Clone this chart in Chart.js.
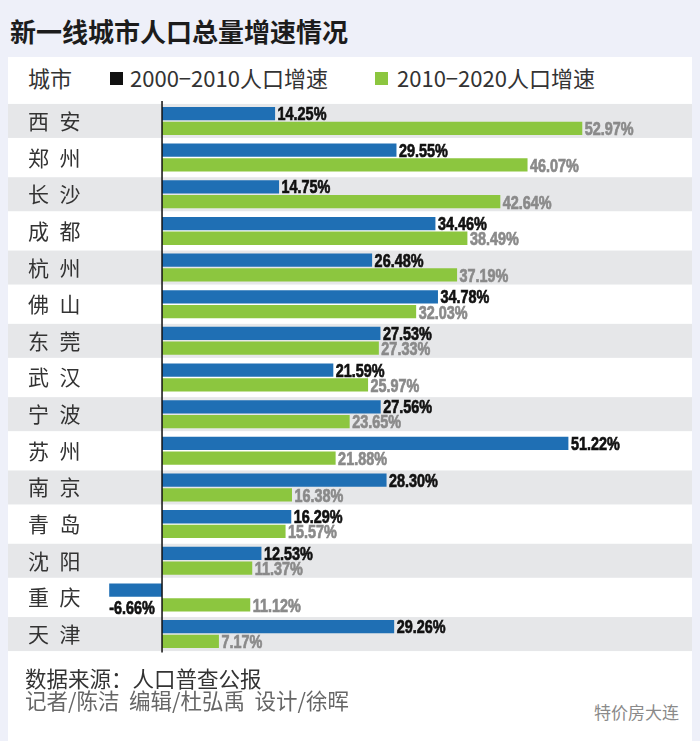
<!DOCTYPE html>
<html><head><meta charset="utf-8">
<script src="https://cdn.jsdelivr.net/npm/chart.js@4.4.1/dist/chart.umd.min.js"></script>
<style>
html,body{margin:0;padding:0;}
body{width:700px;height:741px;background:#eef0f9;position:relative;overflow:hidden;font-family:"Noto Sans CJK SC","Noto Sans",sans-serif;}
#panel{position:absolute;left:8px;top:57px;width:684px;height:684px;background:#fff;}
#title{position:absolute;left:10px;top:13px;font-size:26px;font-weight:bold;color:#1c1c1c;line-height:36px;white-space:nowrap;}
.lg{position:absolute;top:61px;font-size:22px;color:#333;line-height:32px;white-space:nowrap;}
.sq{position:absolute;top:72px;width:13px;height:13px;}
#wrap{position:absolute;left:8px;top:90px;width:684px;height:575px;}
.ft{position:absolute;left:25px;font-size:21.5px;line-height:28px;white-space:nowrap;}
#wm{position:absolute;left:594px;top:700px;font-size:17px;color:#8a8a8a;line-height:24px;white-space:nowrap;}
</style></head>
<body>
<div id="panel"></div>
<div id="title">新一线城市人口总量增速情况</div>
<div class="lg" style="left:28px;">城市</div>
<div class="sq" style="left:110px;background:#111;"></div>
<div class="lg" id="lg1" style="left:130px;"></div>
<div class="sq" style="left:375px;background:#8cc63f;"></div>
<div class="lg" id="lg2" style="left:397px;"></div>
<div id="wrap"><canvas id="c" width="684" height="575"></canvas></div>
<div class="ft" style="top:664px;color:#333;">数据来源：人口普查公报</div>
<div class="ft" style="top:686px;color:#666;">记者/陈洁&nbsp;&nbsp;编辑/杜弘禹&nbsp;&nbsp;设计/徐晖</div>
<div id="wm">特价房大连</div>
<script>
const cities = ['西安','郑州','长沙','成都','杭州','佛山','东莞','武汉','宁波','苏州','南京','青岛','沈阳','重庆','天津'];
const growth2000_2010 = [14.25,29.55,14.75,34.46,26.48,34.78,27.53,21.59,27.56,51.22,28.30,16.29,12.53,-6.66,29.26];
const growth2010_2020 = [52.97,46.07,42.64,38.49,37.19,32.03,27.33,25.97,23.65,21.88,16.38,15.57,11.37,11.12,7.17];
const seriesLabels = ['2000−2010人口增速','2010−2020人口增速'];

document.getElementById('lg1').textContent = seriesLabels[0];
document.getElementById('lg2').textContent = seriesLabels[1];

const numFont = '"Liberation Sans","Arial",sans-serif';

function drawNarrow(ctx, txt, x, y){
  ctx.save();
  ctx.translate(x, y);
  ctx.scale(0.8, 1);
  ctx.fillText(txt, 0, 0);
  ctx.strokeText(txt, 0, 0);
  ctx.restore();
}

const stripes = {
  id:'stripes',
  beforeDraw(chart){
    const {ctx, scales:{y}} = chart;
    const n = chart.data.labels.length;
    ctx.save();
    ctx.fillStyle = '#e6e7e9';
    for(let i=0;i<n;i+=2){
      const c = y.getPixelForValue(i);
      ctx.fillRect(0, c-17, chart.width, 34);
    }
    ctx.restore();
  },
  afterDatasetsDraw(chart){
    const {ctx, scales:{x,y}} = chart;
    const n = chart.data.labels.length;
    const x0 = x.getPixelForValue(0);
    ctx.save();
    ctx.strokeStyle = '#111';
    ctx.lineWidth = 1.5;
    ctx.beginPath();
    ctx.moveTo(x0, y.getPixelForValue(0)-20);
    ctx.lineTo(x0, y.getPixelForValue(n-1)+18.5);
    ctx.stroke();
    ctx.font = 'bold 18px ' + numFont;
    ctx.textBaseline = 'middle';
    ctx.textAlign = 'left';
    ctx.lineWidth = 0.7;
    chart.data.datasets.forEach((ds, di) => {
      const meta = chart.getDatasetMeta(di);
      meta.data.forEach((bar, i) => {
        const v = ds.data[i];
        const txt = v.toFixed(2) + '%';
        ctx.fillStyle = di===0 ? '#111' : '#8a8a8a';
        ctx.strokeStyle = ctx.fillStyle;
        if(v >= 0){
          drawNarrow(ctx, txt, bar.x + 2.5, bar.y + (di===0 ? 1.5 : 2));
        } else {
          drawNarrow(ctx, txt, bar.x, bar.y + 19);
        }
      });
    });
    ctx.restore();
  }
};

new Chart(document.getElementById('c'), {
  type:'bar',
  data:{
    labels: cities,
    datasets:[
      {label:seriesLabels[0], data:growth2000_2010, backgroundColor:'#1f6fb4', categoryPercentage:0.804, barPercentage:0.9},
      {label:seriesLabels[1], data:growth2010_2020, backgroundColor:'#8cc63f', categoryPercentage:0.804, barPercentage:0.9}
    ]
  },
  options:{
    indexAxis:'y',
    responsive:false,
    animation:false,
    layout:{padding:{left:20,right:0,top:8.3,bottom:6.8}},
    plugins:{legend:{display:false},tooltip:{enabled:false}},
    scales:{
      x:{min:-9.08,max:66.8,display:false,grid:{display:false}},
      y:{
        position:'left',
        grid:{display:false},
        border:{display:false},
        ticks:{
          crossAlign:'far',
          padding:0,
          color:'#333',
          font:{size:21,family:'"Noto Sans CJK SC",sans-serif'},
          callback:function(v){ return this.getLabelForValue(v).split('').join('\u2002'); }
        },
        afterFit(s){ s.width = 62; }
      }
    }
  },
  plugins:[stripes]
});
</script>
</body></html>
